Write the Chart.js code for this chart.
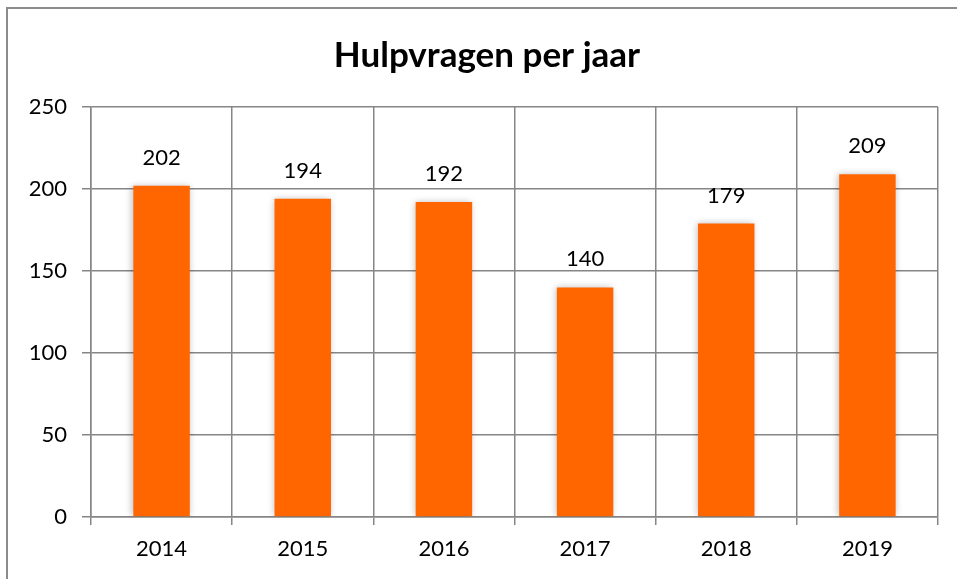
<!DOCTYPE html>
<html>
<head>
<meta charset="utf-8">
<script src="https://cdn.jsdelivr.net/npm/chart.js@4"></script>
<style>
  body { margin: 0; background: #fff; }
  #wrap { width: 957px; height: 579px; }
</style>
</head>
<body>
<div id="wrap"><canvas id="chart" width="957" height="579"></canvas></div>
<script>
// chart data
var years = ['2014', '2015', '2016', '2017', '2018', '2019'];
var requests = [202, 194, 192, 140, 179, 209];
var yTicks = [0, 50, 100, 150, 200, 250];
var chartTitle = 'Hulpvragen per jaar';

var gridColor = '#868686';
var barColor = '#FF6600';
var fontName = 'Lato, "Open Sans", sans-serif';

// outer frame and title, centred on the frame like the office chart
var framePlugin = {
    id: 'frame',
    afterDraw: function (chart) {
        var ctx = chart.ctx;
        ctx.save();
        ctx.strokeStyle = '#8c8c8c';
        ctx.lineWidth = 2;
        ctx.strokeRect(7, 8, 960, 590);
        ctx.font = 'bold 35px ' + fontName;
        ctx.fillStyle = '#000';
        ctx.textAlign = 'center';
        ctx.textBaseline = 'middle';
        ctx.fillText(chartTitle, 487, 56);
        ctx.restore();
    }
};

// soft shadow round the bars
var shadowPlugin = {
    id: 'barShadow',
    beforeDatasetDraw: function (chart) {
        var ctx = chart.ctx;
        ctx.save();
        ctx.shadowColor = 'rgba(0,0,0,0.28)';
        ctx.shadowBlur = 7;
        ctx.shadowOffsetX = -1;
        ctx.shadowOffsetY = 0;
    },
    afterDatasetDraw: function (chart) {
        chart.ctx.restore();
    }
};

// value labels above the bars
var labelPlugin = {
    id: 'valueLabels',
    afterDatasetsDraw: function (chart) {
        var ctx = chart.ctx;
        var meta = chart.getDatasetMeta(0);
        ctx.save();
        ctx.font = '22px ' + fontName;
        ctx.fillStyle = '#000';
        ctx.textAlign = 'center';
        ctx.textBaseline = 'middle';
        meta.data.forEach(function (bar, i) {
            ctx.fillText(requests[i], bar.x, bar.y - 28);
        });
        ctx.restore();
    }
};

var ctx = document.getElementById('chart').getContext('2d');
var myChart = new Chart(ctx, {
    type: 'bar',
    data: {
        labels: years,
        datasets: [{
            data: requests,
            backgroundColor: barColor,
            borderWidth: 0,
            barPercentage: 0.4,
            categoryPercentage: 1
        }]
    },
    options: {
        responsive: false,
        animation: false,
        layout: { padding: { left: 0, right: 19, top: 107, bottom: 0 } },
        plugins: {
            legend: { display: false },
            tooltip: { enabled: false },
            title: { display: false }
        },
        scales: {
            x: {
                offset: true,
                grid: { color: gridColor, offset: true, tickLength: 8, lineWidth: 1.5 },
                border: { color: gridColor, width: 1.5 },
                ticks: { color: '#000', font: { family: fontName, size: 22 }, padding: 11 },
                afterFit: function (scale) { scale.height = 62; }
            },
            y: {
                min: 0,
                max: 250,
                afterBuildTicks: function (scale) {
                    scale.ticks = yTicks.map(function (v) { return { value: v }; });
                },
                grid: { color: gridColor, tickLength: 9, lineWidth: 1.5 },
                border: { color: gridColor, width: 1.5 },
                ticks: { color: '#000', font: { family: fontName, size: 22 }, padding: 15 },
                afterFit: function (scale) { scale.width = 91; }
            }
        }
    },
    plugins: [shadowPlugin, labelPlugin, framePlugin]
});
</script>
</body>
</html>
